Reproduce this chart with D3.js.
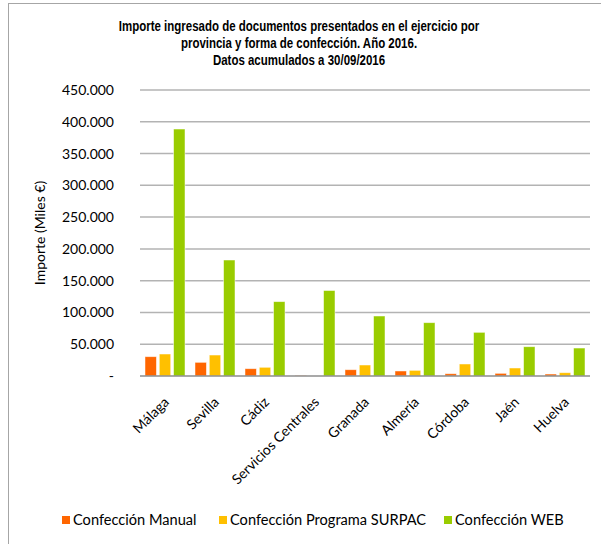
<!DOCTYPE html>
<html>
<head>
<meta charset="utf-8">
<script src="https://cdn.jsdelivr.net/npm/d3@7"></script>
<style>
  body { margin: 0; background: #fff; }
  svg text { font-family: Lato, "Open Sans", sans-serif; fill: #000; }
  .title { font-family: "Liberation Sans Narrow", "Liberation Sans", sans-serif; font-weight: bold; font-size: 14px; }
</style>
</head>
<body>
<svg id="chart" width="601" height="544"></svg>
<script>
// datos (miles de euros)
const provincias = ["Málaga", "Sevilla", "Cádiz", "Servicios Centrales", "Granada", "Almería", "Córdoba", "Jaén", "Huelva"];
const manual = [30400, 21500, 11500, 800, 9900, 7900, 3600, 4200, 3100];
const surpac = [34600, 33000, 13700, 0, 17300, 8900, 18900, 12600, 5200];
const web = [388600, 182500, 117000, 134500, 94400, 83900, 68700, 46100, 44000];
const yTicks = [0, 50000, 100000, 150000, 200000, 250000, 300000, 350000, 400000, 450000];
const seriesNames = ["Confección Manual", "Confección Programa SURPAC", "Confección WEB"];
const colores = ["#FF6600", "#FFC000", "#99CC00"];
const tituloLineas = [
  "Importe ingresado de documentos presentados en el ejercicio por",
  "provincia y forma de confección. Año 2016.",
  "Datos acumulados a 30/09/2016"
];

const svg = d3.select("#chart");

// borde del gráfico
svg.append("rect")
  .attr("x", 8.5).attr("y", 3.5)
  .attr("width", 600).attr("height", 560)
  .attr("fill", "none").attr("stroke", "#a6a6a6");

// título (comprimido en horizontal, como una fuente estrecha)
svg.append("text")
  .attr("class", "title")
  .attr("text-anchor", "middle")
  .attr("transform", "translate(299,0) scale(0.82,1)")
  .selectAll("tspan")
  .data(tituloLineas)
  .join("tspan")
  .attr("x", 0)
  .attr("y", (d, i) => 31 + i * 17)
  .text((d) => d);

const plotLeft = 140, plotRight = 590, plotTop = 90, plotBottom = 376;

const x = d3.scaleBand().domain(provincias).range([plotLeft, plotRight]);
const xs = d3.scaleBand().domain(d3.range(3)).range([5, x.bandwidth() - 5]).paddingInner(0.2);
const y = d3.scaleLinear().domain([0, 450000]).range([plotBottom, plotTop]);

const fmt = (v) => (v === 0 ? "-" : d3.format(",")(v).replace(/,/g, "."));

// líneas de cuadrícula
svg.append("g")
  .selectAll("line")
  .data(yTicks.filter((d) => d > 0))
  .join("line")
  .attr("x1", plotLeft).attr("x2", plotRight)
  .attr("y1", (d) => y(d)).attr("y2", (d) => y(d))
  .attr("stroke", "#b3b3b3").attr("stroke-width", 1.5);

// eje y
svg.append("g")
  .attr("transform", `translate(${plotLeft},0)`)
  .call(d3.axisLeft(y).tickValues(yTicks).tickFormat(fmt).tickSize(0).tickPadding(26))
  .call((g) => g.select(".domain").remove())
  .selectAll("text")
  .style("font-size", "14px")
  .style("font-family", "Lato, sans-serif");

svg.append("text")
  .attr("transform", `translate(45,233) rotate(-90)`)
  .attr("text-anchor", "middle")
  .style("font-size", "14px")
  .text("Importe (Miles €)");

// barras
const series = [manual, surpac, web];
const grupos = svg.append("g")
  .selectAll("g")
  .data(series)
  .join("g")
  .attr("fill", (d, i) => colores[i]);

grupos.each(function (vals, si) {
  d3.select(this)
    .selectAll("rect")
    .data(vals)
    .join("rect")
    .attr("x", (d, i) => x(provincias[i]) + xs(si))
    .attr("width", xs.bandwidth())
    .attr("y", (d) => y(d))
    .attr("height", (d) => plotBottom - y(d))
    .attr("stroke", "rgba(255,255,255,0.6)")
    .attr("stroke-width", 0.8);
});

// eje x
svg.append("line")
  .attr("x1", plotLeft).attr("x2", plotRight)
  .attr("y1", plotBottom).attr("y2", plotBottom)
  .attr("stroke", "#8c8c8c").attr("stroke-width", 1.5);

svg.append("g")
  .selectAll("text")
  .data(provincias)
  .join("text")
  .attr("transform", (d) => `translate(${x(d) + x.bandwidth() / 2 + 5},${plotBottom + 27}) rotate(-45)`)
  .attr("text-anchor", "end")
  .style("font-size", "14px")
  .text((d) => d);

// leyenda
const legendX = [62, 219, 444];
const leg = svg.append("g")
  .selectAll("g")
  .data(seriesNames)
  .join("g")
  .attr("transform", (d, i) => `translate(${legendX[i]},520)`);

leg.append("rect")
  .attr("x", 0).attr("y", -4)
  .attr("width", 8).attr("height", 8)
  .attr("fill", (d, i) => colores[i]);

leg.append("text")
  .attr("x", 11)
  .attr("dy", "0.35em")
  .style("font-size", "14.6px")
  .text((d) => d);
</script>
</body>
</html>
